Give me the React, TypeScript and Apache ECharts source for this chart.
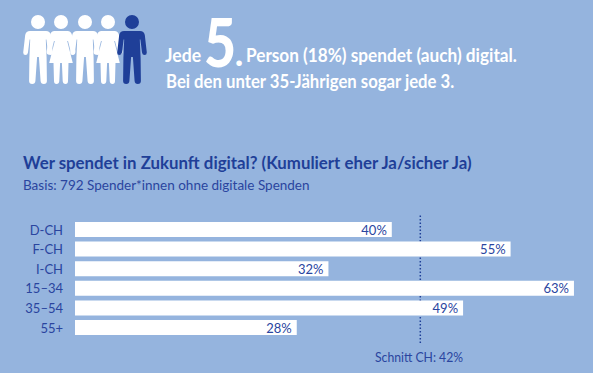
import React, { useEffect, useRef } from "react";
import * as echarts from "echarts";

const categories = ["D-CH", "F-CH", "I-CH", "15–34", "35–54", "55+"];
const values = [40, 55, 32, 63, 49, 28];
const averagePosition = [43.6];
const averageExtent = [0, 1];

const headJede = "Jede";
const headFive = "5";
const headDot = ".";
const headLine1 = "Person (18%) spendet (auch) digital.";
const headLine2 = "Bei den unter 35-Jährigen sogar jede 3.";
const titleText = "Wer spendet in Zukunft digital? (Kumuliert eher Ja/sicher Ja)";
const subtitleText = "Basis: 792 Spender*innen ohne digitale Spenden";
const averageText = "Schnitt CH: 42%";

const BG = "#95b4de";
const BLUE = "#2a459f";
const DARK = "#1f3f98";
const FONT = "Lato, 'Noto Sans', sans-serif";

const head = "M7 22 A7 7 0 1 1 -7 22 A7 7 0 1 1 7 22 Z ";
const manPath =
  head +
  "M-8 31 L8 31 Q12 31 12.8 35 L14.8 52.5 Q14.8 55 12.6 55 Q10.4 55 10 52.5 L8.4 39.5 L7.8 39.5 L8.6 58 L8.9 81 Q8.9 84 5.8 84 Q2.8 84 2.6 81 L0.9 57 L-0.9 57 L-2.6 81 Q-2.8 84 -5.8 84 Q-8.9 84 -8.9 81 L-8.6 58 L-7.8 39.5 L-8.4 39.5 L-10 52.5 Q-10.4 55 -12.6 55 Q-14.8 55 -14.8 52.5 L-12.8 35 Q-12 31 -8 31 Z";
const womanPath =
  head +
  "M-6.5 31 L6.5 31 Q10 31 11 35 L14.4 51 Q14.8 54 12.6 54.6 Q10.6 55 9.8 52 L7 41 L6.2 41 L11.8 63 L7.5 63 L7 81 Q7 84 4.5 84 Q1.9 84 1.7 81 L0.9 63 L-0.9 63 L-1.7 81 Q-1.9 84 -4.5 84 Q-7 84 -7 81 L-7.5 63 L-11.8 63 L-6.2 41 L-7 41 L-9.8 52 Q-10.6 55 -12.6 54.6 Q-14.8 54 -14.4 51 L-11 35 Q-10 31 -6.5 31 Z";
echarts.graphic.registerShape("man", echarts.graphic.extendPath(manPath as any, {}));
echarts.graphic.registerShape("woman", echarts.graphic.extendPath(womanPath as any, {}));

export default function App() {
  const ref = useRef<HTMLDivElement>(null);
  useEffect(() => {
    document.body.style.margin = "0";
    const chart = echarts.init(ref.current!, null, { renderer: "svg" });
    const txt = (x: number, y: number, text: string, size: number, color: string, weight: any, scaleX = 1) => ({
      type: "text",
      x,
      y,
      scaleX,
      style: { text, fontSize: size, fontFamily: FONT, fontWeight: weight, fill: color, textVerticalAlign: "middle" },
    });
    chart.setOption({
      animation: false,
      backgroundColor: BG,
      grid: [
        { left: 75, right: 3.2, top: 219.7, height: 117.6 },
        { left: 75, right: 3.2, top: 215, height: 128 },
      ],
      xAxis: [
        { type: "value", gridIndex: 0, min: 0, max: 65, show: false },
        { type: "value", gridIndex: 1, min: 0, max: 65, show: false },
      ],
      yAxis: [
        {
          type: "category",
          gridIndex: 0,
          inverse: true,
          data: categories,
          axisLine: { show: false },
          axisTick: { show: false },
          axisLabel: { color: BLUE, fontSize: 13, fontFamily: FONT, margin: 12 },
        },
        { type: "value", gridIndex: 1, min: 0, max: 1, show: false },
      ],
      series: [
        {
          type: "line",
          xAxisIndex: 1,
          yAxisIndex: 1,
          z: 1,
          symbol: "none",
          silent: true,
          lineStyle: { color: DARK, width: 1.5, type: [1.5, 2] },
          data: averageExtent.map((v) => [averagePosition[0], v]),
        },
        {
          type: "bar",
          xAxisIndex: 0,
          yAxisIndex: 0,
          z: 2,
          barWidth: 15,
          data: values,
          itemStyle: { color: "#ffffff" },
          label: {
            show: true,
            position: "insideRight",
            distance: 5,
            formatter: "{c}%",
            color: BLUE,
            fontSize: 13,
            fontFamily: FONT,
          },
        },
      ],
      graphic: [
        { type: "man", x: 38, y: 0, style: { fill: "#fff" } },
        { type: "woman", x: 61, y: 0, style: { fill: "#fff" } },
        { type: "man", x: 85, y: 0, style: { fill: "#fff" } },
        { type: "woman", x: 108, y: 0, style: { fill: "#fff" } },
        { type: "man", x: 132, y: 0, style: { fill: DARK } },
        txt(165, 55, headJede, 18, "#fff", 700, 0.98),
        txt(204, 42, headFive, 66, "#fff", 900, 0.84),
        txt(235, 52, headDot, 34, "#fff", 900, 1),
        txt(246, 55, headLine1, 18, "#fff", 700, 0.956),
        txt(166, 81, headLine2, 18, "#fff", 700, 0.929),
        txt(23, 162, titleText, 17, DARK, 700, 0.99),
        txt(23, 185, subtitleText, 13.5, BLUE, 400, 1),
        txt(375, 357, averageText, 13.5, BLUE, 400, 0.905),
      ],
    });
    return () => chart.dispose();
  }, []);
  return <div ref={ref} style={{ width: 593, height: 373 }} />;
}
